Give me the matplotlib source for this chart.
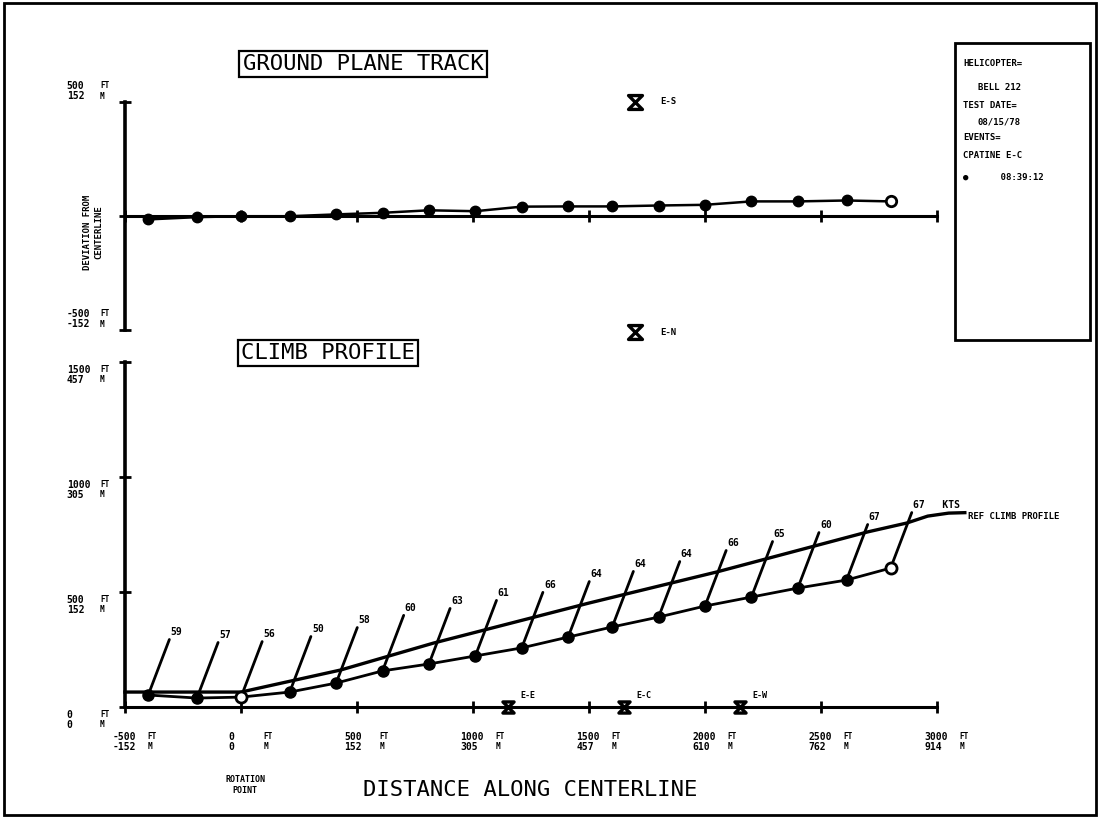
import matplotlib
matplotlib.use('Agg')
import matplotlib.pyplot as plt
from matplotlib.path import Path
from matplotlib.patches import Rectangle

# event positions along centerline (ft)
dist_ft = [-400, -190, 0, 210, 410, 610, 810, 1010, 1210, 1410, 1600, 1800, 2000, 2200, 2400, 2610, 2800]
# measured altitude (ft)
alt_ft = [52, 39, 43, 65, 104, 157, 187, 222, 257, 304, 348, 391, 439, 478, 517, 552, 604]
# lateral deviation from centerline (ft)
dev_ft = [-15, -5, -1, -1, 7, 14, 25, 21, 41, 42, 42, 46, 49, 64, 64, 68, 64]
# airspeed labels (kts)
speed_kts = ['59', '57', '56', '50', '58', '60', '63', '61', '66', '64', '64', '64', '66', '65', '60', '67', '67']

# reference climb profile
ref_dist = [-500, 0, 430, 830, 1500, 2050, 2700, 2870, 2960, 3050, 3120]
ref_alt = [65, 65, 161, 278, 452, 587, 761, 800, 830, 843, 845]

# microphone positions
mic_names = ['E-E', 'E-C', 'E-W']
mic_dist = [1150, 1650, 2150]
side_names = ['E-S', 'E-N']
side_dist = [1700, 1700]
side_dev = [500, -510]

# axis ticks
x_ticks = [-500, 0, 500, 1000, 1500, 2000, 2500, 3000]
x_ticks_m = ['-152', '0', '152', '305', '457', '610', '762', '914']
alt_ticks = [0, 500, 1000, 1500]
alt_ticks_m = ['0', '152', '305', '457']
dev_ticks = [500, -500]
dev_ticks_m = ['152', '-152']

hourglass = Path([(-1, 1), (1, 1), (-1, -1), (1, -1), (-1, 1)],
                 [Path.MOVETO, Path.LINETO, Path.LINETO, Path.LINETO, Path.CLOSEPOLY])

W, H = 1100, 819
fig = plt.figure(figsize=(11, 8.19), dpi=100)
mono = 'DejaVu Sans Mono'

def fx(px):
    return px / W

def fy(py):
    return 1 - py / H

# ---- ground plane track ----
ax1 = fig.add_axes([fx(100), fy(340), 900 / W, 250 / H])
ax1.set_xlim(-607.8, 3271.6)
ax1.set_ylim(-543.9, 552.6)
ax1.plot(dist_ft, dev_ft, color='black', lw=1.8, zorder=3)
ax1.plot(dist_ft[:-1], dev_ft[:-1], 'o', color='black', ms=7.5, zorder=4)
ax1.plot(dist_ft[-1:], dev_ft[-1:], 'o', mfc='white', mec='black', mew=2, ms=7.5, zorder=4)
for n, x, y in zip(side_names, side_dist, side_dev):
    ax1.plot(x, y, marker=hourglass, ms=10, mfc='none', mec='black', mew=2.4, clip_on=False)
    ax1.annotate(n, xy=(x, y), xytext=(18, 0), textcoords='offset points', ha='left', va='center',
                 fontsize=6.5, fontweight='bold', family=mono)

# ---- climb profile ----
ax2 = fig.add_axes([fx(100), fy(720), 900 / W, 380 / H])
ax2.set_xlim(-607.8, 3271.6)
ax2.set_ylim(-56.5, 1595.7)
ax2.plot(ref_dist, ref_alt, color='black', lw=2.4, zorder=3)
ax2.plot(dist_ft, alt_ft, color='black', lw=2, zorder=3)
solid = [i for i in range(len(dist_ft)) if i not in (2, len(dist_ft) - 1)]
ax2.plot([dist_ft[i] for i in solid], [alt_ft[i] for i in solid], 'o', color='black', ms=8, zorder=4)
ax2.plot([dist_ft[2], dist_ft[-1]], [alt_ft[2], alt_ft[-1]], 'o', mfc='white', mec='black',
         mew=2, ms=8, zorder=4)
for i, (x, y, s) in enumerate(zip(dist_ft, alt_ft, speed_kts)):
    txt = s + '   KTS' if i == len(dist_ft) - 1 else s
    ax2.annotate(txt, xy=(x, y), xytext=(16, 42), textcoords='offset points', ha='left', va='bottom',
                 fontsize=7, fontweight='bold', family=mono,
                 arrowprops=dict(arrowstyle='-', relpos=(0, 0), shrinkA=0, shrinkB=0, lw=2, color='black'))
ax2.annotate('REF CLIMB PROFILE', xy=(ref_dist[-1], ref_alt[-1]), xytext=(2, -3), textcoords='offset points',
             ha='left', va='center', fontsize=6.5, fontweight='bold', family=mono)
for n, x in zip(mic_names, mic_dist):
    ax2.plot(x, 0, marker=hourglass, ms=8, mfc='none', mec='black', mew=2.4, clip_on=False, zorder=5)
    ax2.annotate(n, xy=(x, 0), xytext=(9, 5), textcoords='offset points', ha='left', va='bottom',
                 fontsize=6, fontweight='bold', family=mono)

# axes styling
for ax, ylo, yhi, yt in [(ax1, -500, 500, [-500, 0, 500]), (ax2, 0, 1500, alt_ticks)]:
    for s in ['top', 'right']:
        ax.spines[s].set_visible(False)
    ax.spines['bottom'].set_position(('data', 0))
    ax.spines['bottom'].set_bounds(-500, 3000)
    ax.spines['left'].set_position(('data', -500))
    ax.spines['left'].set_bounds(ylo, yhi)
    ax.spines['bottom'].set_linewidth(2.2)
    ax.spines['left'].set_linewidth(2.6)
    ax.set_xticks(x_ticks)
    ax.set_yticks(yt)
    ax.set_xticklabels([])
    ax.set_yticklabels([])
    ax.tick_params(direction='inout', length=9, width=2)
    ax.patch.set_visible(False)

# x tick labels (lower panel)
for t, m in zip(x_ticks, x_ticks_m):
    ax2.annotate(f'{t}\n{m}', xy=(t, 0), xytext=(-9, -18), textcoords='offset points', ha='left', va='top',
                 fontsize=7, fontweight='bold', family=mono, linespacing=1.0)
    ax2.annotate('FT\nM', xy=(t, 0), xytext=(16, -18), textcoords='offset points', ha='left', va='top',
                 fontsize=5.5, fontweight='bold', family=mono, linespacing=1.2)
# y tick labels (lower panel)
for t, m in zip(alt_ticks, alt_ticks_m):
    ax2.annotate(f'{t}\n{m}', xy=(-500, t), xytext=(-42, -2), textcoords='offset points', ha='left', va='top',
                 fontsize=7, fontweight='bold', family=mono, linespacing=1.0)
    ax2.annotate('FT\nM', xy=(-500, t), xytext=(-18, -2), textcoords='offset points', ha='left', va='top',
                 fontsize=5.5, fontweight='bold', family=mono, linespacing=1.2)
# y tick labels (upper panel)
for t, m in zip(dev_ticks, dev_ticks_m):
    ax1.annotate(f'{t}\n{m}', xy=(-500, t), xytext=(-42, 1), textcoords='offset points', ha='left', va='bottom',
                 fontsize=7, fontweight='bold', family=mono, linespacing=1.0)
    ax1.annotate('FT\nM', xy=(-500, t), xytext=(-18, 1), textcoords='offset points', ha='left', va='bottom',
                 fontsize=5.5, fontweight='bold', family=mono, linespacing=1.2)

# titles and labels
box = dict(boxstyle='square,pad=0.15', fc='white', ec='black', lw=1.6)
fig.text(fx(363), fy(64), 'GROUND PLANE TRACK', ha='center', va='center', fontsize=16, family=mono, bbox=box)
fig.text(fx(328), fy(353), 'CLIMB PROFILE', ha='center', va='center', fontsize=16, family=mono, bbox=box)
fig.text(fx(530), fy(790), 'DISTANCE ALONG CENTERLINE', ha='center', va='center', fontsize=16, family=mono)
fig.text(fx(93), fy(232), 'DEVIATION FROM\nCENTERLINE', ha='center', va='center', rotation=90,
         fontsize=6.5, fontweight='bold', family=mono, linespacing=1.3)
fig.text(fx(245), fy(785), 'ROTATION\nPOINT', ha='center', va='center', fontsize=6, fontweight='bold',
         family=mono, linespacing=1.4)

# info box
fig.patches.append(Rectangle((fx(955), fy(340)), 135 / W, 297 / H, transform=fig.transFigure,
                             fill=False, ec='black', lw=2))
info = [('HELICOPTER=', 963, 63), ('BELL 212', 978, 88), ('TEST DATE=', 963, 105), ('08/15/78', 978, 122),
        ('EVENTS=', 963, 138), ('CPATINE E-C', 963, 155), ('\u25cf      08:39:12', 963, 177)]
for s, x, y in info:
    fig.text(fx(x), fy(y), s, ha='left', va='center', fontsize=6.5, fontweight='bold', family=mono)

# page frame
fig.patches.append(Rectangle((fx(4), fy(815)), 1092 / W, 812 / H, transform=fig.transFigure,
                             fill=False, ec='black', lw=2))

fig.savefig('out.png', dpi=100)
